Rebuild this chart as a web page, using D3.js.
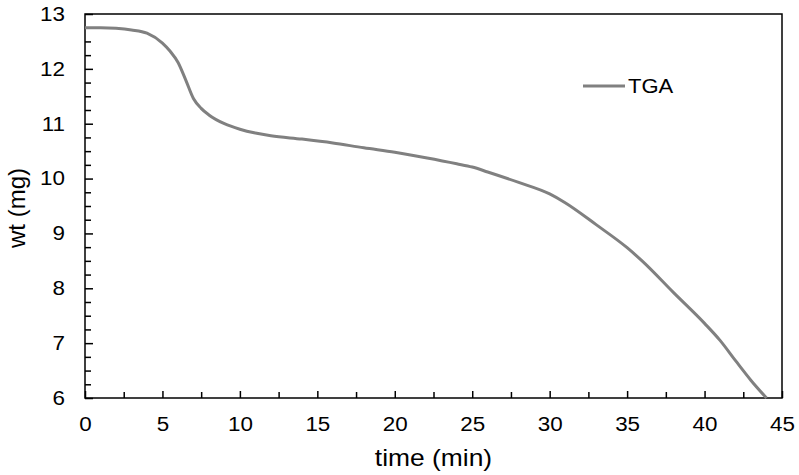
<!DOCTYPE html>
<html>
<head>
<meta charset="utf-8">
<script src="https://cdn.jsdelivr.net/npm/d3@7"></script>
<style>
  body { margin: 0; background: #fff; }
  text { font-family: "Liberation Sans", Arial, sans-serif; fill: #000; }
</style>
</head>
<body>
<div id="chart"></div>
<script>
// data
const time = [0, 1, 2, 3, 4, 5, 5.5, 6, 6.5, 7, 7.5, 8, 9, 10, 11, 12, 14, 16, 18, 20,
  22, 24, 25, 26, 28, 30, 31, 33, 35, 36, 38, 40, 41, 42, 43, 44];
const wt = [12.75, 12.75, 12.74, 12.71, 12.65, 12.47, 12.32, 12.12, 11.8, 11.46, 11.28, 11.16,
  11.0, 10.9, 10.83, 10.78, 10.72, 10.65, 10.56, 10.48, 10.38, 10.27, 10.21, 10.12, 9.93,
  9.72, 9.56, 9.16, 8.74, 8.49, 7.92, 7.36, 7.05, 6.68, 6.32, 6.0];
const xTicks = [0, 5, 10, 15, 20, 25, 30, 35, 40, 45];
const yTicks = [6, 7, 8, 9, 10, 11, 12, 13];
const seriesName = "TGA";

const data = time.map((t, i) => ({t: t, w: wt[i]}));

// set the dimensions and margins of the graph
const margin = {top: 14, right: 17, bottom: 77, left: 85},
    width = 799 - margin.left - margin.right,
    height = 475 - margin.top - margin.bottom;

const svg = d3.select("#chart")
  .append("svg")
    .attr("width", 799)
    .attr("height", 475)
  .append("g")
    .attr("transform", `translate(${margin.left},${margin.top})`);

// the reference text is a bit wider than normal Arial, so stretch it
function stretch(sel, k) {
  sel.each(function() {
    const len = this.getComputedTextLength();
    d3.select(this)
      .attr("textLength", len * k)
      .attr("lengthAdjust", "spacingAndGlyphs");
  });
}

const x = d3.scaleLinear().domain([0, 45]).range([0, width]);
const y = d3.scaleLinear().domain([6, 13]).range([height, 0]);

// minor ticks (inside)
const xMinor = d3.range(2.5, 45, 5);
const yMinor = d3.range(6, 13, 0.25).filter(v => Math.abs(v - Math.round(v)) > 0.01);

svg.append("g")
  .attr("transform", `translate(0,${height})`)
  .call(d3.axisBottom(x).tickValues(xMinor).tickSize(-6).tickFormat(""))
  .call(g => g.select(".domain").remove())
  .selectAll("line").attr("stroke-width", 1.5);

svg.append("g")
  .call(d3.axisLeft(y).tickValues(yMinor).tickSize(-6).tickFormat(""))
  .call(g => g.select(".domain").remove())
  .selectAll("line").attr("stroke-width", 1.5);

// major ticks
svg.append("g")
  .attr("transform", `translate(0,${height})`)
  .call(d3.axisBottom(x).tickValues(xTicks).tickSize(-7).tickPadding(19).tickFormat(d3.format("d")))
  .call(g => g.select(".domain").remove())
  .call(g => g.selectAll("line").attr("stroke-width", 1.5))
  .call(g => g.selectAll("text")
    .style("font-family", "'Liberation Sans', Arial, sans-serif")
    .style("font-size", "20px").attr("dy", "0.71em")
    .call(stretch, 1.12));

svg.append("g")
  .call(d3.axisLeft(y).tickValues(yTicks).tickSize(-8).tickPadding(20).tickFormat(d3.format("d")))
  .call(g => g.select(".domain").remove())
  .call(g => g.selectAll("line").attr("stroke-width", 1.5))
  .call(g => g.selectAll("text")
    .style("font-family", "'Liberation Sans', Arial, sans-serif")
    .style("font-size", "20px")
    .call(stretch, 1.12));

// plot border
svg.append("rect")
  .attr("width", width)
  .attr("height", height)
  .attr("fill", "none")
  .attr("stroke", "#000")
  .attr("stroke-width", 1.5);

// the line
svg.append("path")
  .datum(data)
  .attr("fill", "none")
  .attr("stroke", "#808080")
  .attr("stroke-width", 3)
  .attr("d", d3.line()
    .curve(d3.curveMonotoneX)
    .x(d => x(d.t))
    .y(d => y(d.w)));

// legend
svg.append("line")
  .attr("x1", 498).attr("x2", 540)
  .attr("y1", 72).attr("y2", 72)
  .attr("stroke", "#808080")
  .attr("stroke-width", 3);
svg.append("text")
  .attr("x", 543).attr("y", 79)
  .style("font-size", "20px")
  .text(seriesName)
  .call(stretch, 1.1);

// axis titles
svg.append("text")
  .attr("x", width / 2)
  .attr("y", height + 68)
  .attr("text-anchor", "middle")
  .style("font-size", "24px")
  .text("time (min)")
  .call(stretch, 1.1);

svg.append("text")
  .attr("transform", `translate(${-60},${height / 2 + 2}) rotate(-90)`)
  .attr("text-anchor", "middle")
  .style("font-size", "24px")
  .text("wt (mg)");
</script>
</body>
</html>
